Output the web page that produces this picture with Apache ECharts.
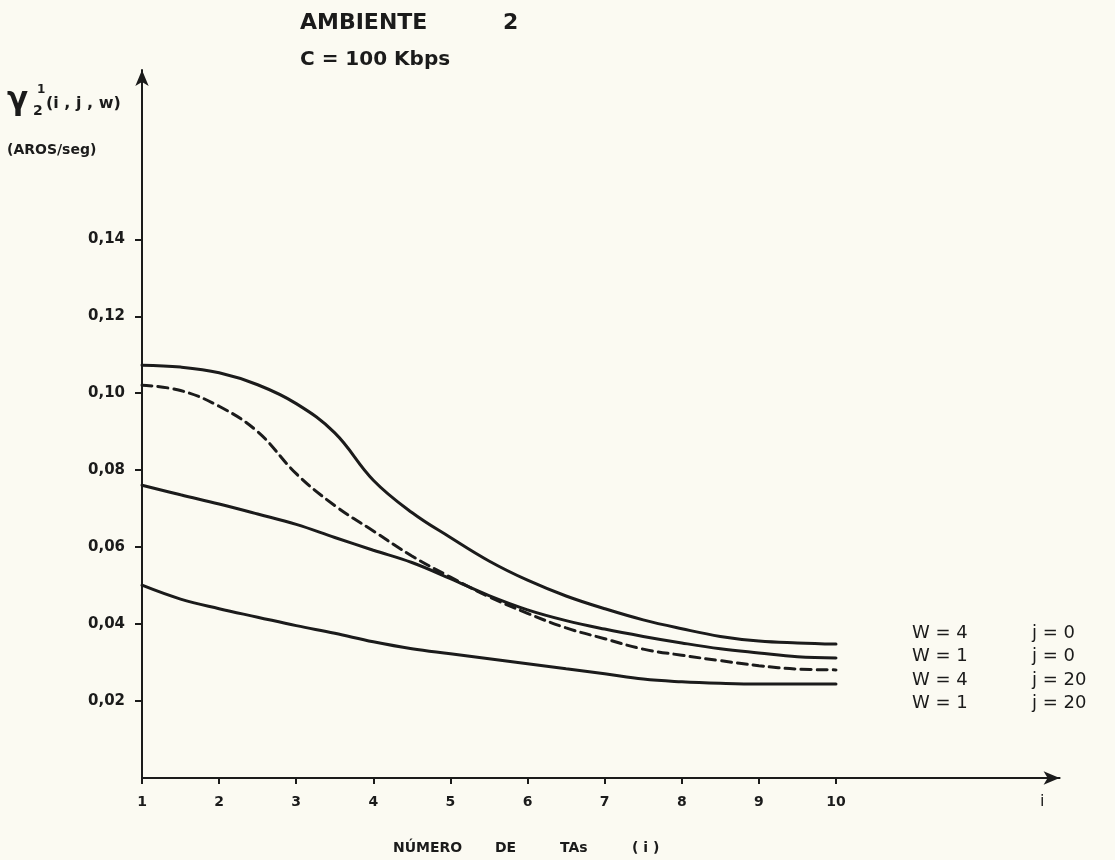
<!DOCTYPE html>
<html>
<head>
<meta charset="utf-8">
<title>AMBIENTE 2</title>
<script src="https://cdn.jsdelivr.net/npm/echarts@6/dist/echarts.min.js"></script>
<style>
  html, body { margin: 0; padding: 0; background: #fbfaf2; }
  #chart { width: 1115px; height: 860px; }
</style>
</head>
<body>
<div id="chart"></div>
<script>
// ---- data ----
const xValues = [1, 1.5, 2, 2.5, 3, 3.5, 4, 4.5, 5, 5.5, 6, 6.5, 7, 7.5, 8, 8.5, 9, 9.5, 10];
const seriesW4j0  = [0.1073, 0.1068, 0.1053, 0.1022, 0.0973, 0.0897, 0.0774, 0.0690, 0.0625, 0.0564, 0.0514, 0.0473, 0.0440, 0.0411, 0.0388, 0.0368, 0.0356, 0.0351, 0.0348];
const seriesW1j0  = [0.0761, 0.0736, 0.0712, 0.0686, 0.0659, 0.0625, 0.0592, 0.0560, 0.0518, 0.0474, 0.0437, 0.0409, 0.0387, 0.0368, 0.0351, 0.0336, 0.0325, 0.0315, 0.0312];
const seriesW4j20 = [0.1021, 0.1007, 0.0966, 0.0900, 0.0791, 0.0708, 0.0642, 0.0577, 0.0522, 0.0471, 0.0428, 0.0390, 0.0362, 0.0335, 0.0319, 0.0305, 0.0292, 0.0283, 0.0281];
const seriesW1j20 = [0.0501, 0.0465, 0.0440, 0.0418, 0.0396, 0.0376, 0.0354, 0.0336, 0.0323, 0.0310, 0.0297, 0.0284, 0.0271, 0.0257, 0.0250, 0.0246, 0.0244, 0.0244, 0.0244];

const seriesNames = ['W = 4, j = 0', 'W = 1, j = 0', 'W = 4, j = 20', 'W = 1, j = 20'];
const legendW = ['W = 4', 'W = 1', 'W = 4', 'W = 1'];
const legendJ = ['j = 0', 'j = 0', 'j = 20', 'j = 20'];

const xTickValues = [1, 2, 3, 4, 5, 6, 7, 8, 9, 10];
const xTickLabels = ['1', '2', '3', '4', '5', '6', '7', '8', '9', '10'];
const yTickValues = [0.02, 0.04, 0.06, 0.08, 0.10, 0.12, 0.14];
const yTickLabels = ['0,02', '0,04', '0,06', '0,08', '0,10', '0,12', '0,14'];

// ---- chart ----
const INK = '#1b1b1b';
const FONT = 'DejaVu Sans';
const allSeries = [seriesW4j0, seriesW1j0, seriesW4j20, seriesW1j20];
const dashed = [false, false, true, false];

function nearestIndex(arr, v) {
  let best = 0;
  for (let i = 1; i < arr.length; i++) {
    if (Math.abs(arr[i] - v) < Math.abs(arr[best] - v)) best = i;
  }
  return best;
}

const chart = echarts.init(document.getElementById('chart'), null, { renderer: 'canvas' });

function txt(left, top, text, size, bold) {
  return {
    type: 'text', left: left, top: top,
    style: { text: text, fontSize: size, fontWeight: bold ? 'bold' : 'normal', fontFamily: FONT, fill: INK }
  };
}

const option = {
  backgroundColor: '#fbfaf2',
  animation: false,
  grid: { left: 142, top: 70, width: 917.6, height: 708 },
  xAxis: {
    type: 'value',
    min: 1,
    max: 12.9,
    splitLine: { show: false },
    axisLine: {
      show: true,
      symbol: ['none', 'arrow'],
      symbolSize: [10, 16],
      lineStyle: { color: INK, width: 2 }
    },
    axisTick: {
      show: true,
      customValues: xTickValues,
      length: 6,
      lineStyle: { color: INK, width: 2 }
    },
    axisLabel: {
      customValues: xTickValues,
      formatter: v => xTickLabels[nearestIndex(xTickValues, v)],
      margin: 17,
      fontSize: 14,
      fontWeight: 'bold',
      fontFamily: FONT,
      color: INK
    }
  },
  yAxis: {
    type: 'value',
    min: 0,
    max: 0.184,
    splitLine: { show: false },
    axisLine: {
      show: true,
      symbol: ['none', 'arrow'],
      symbolSize: [10, 16],
      lineStyle: { color: INK, width: 2 }
    },
    axisTick: {
      show: true,
      customValues: yTickValues,
      length: 7,
      lineStyle: { color: INK, width: 2 }
    },
    axisLabel: {
      customValues: yTickValues,
      formatter: v => yTickLabels[nearestIndex(yTickValues, v)],
      margin: 17,
      fontSize: 15,
      fontWeight: 'bold',
      fontFamily: FONT,
      color: INK
    }
  },
  legend: {
    orient: 'vertical',
    left: 902,
    top: 618,
    icon: 'none',
    itemWidth: 0,
    itemHeight: 10,
    itemGap: 3,
    selectedMode: false,
    data: seriesNames,
    formatter: name => {
      const i = seriesNames.indexOf(name);
      return '{w|' + legendW[i] + '}{j|' + legendJ[i] + '}';
    },
    textStyle: {
      color: INK,
      fontFamily: FONT,
      fontSize: 18,
      lineHeight: 20.5,
      rich: {
        w: { width: 120, fontSize: 18, fontFamily: FONT, color: INK, lineHeight: 20.5 },
        j: { fontSize: 18, fontFamily: FONT, color: INK, lineHeight: 20.5 }
      }
    }
  },
  series: allSeries.map((vals, k) => ({
    name: seriesNames[k],
    type: 'line',
    smooth: 0.4,
    showSymbol: false,
    symbol: 'none',
    data: xValues.map((x, i) => [x, vals[i]]),
    lineStyle: {
      color: INK,
      width: 3,
      type: dashed[k] ? [10, 6] : 'solid',
      cap: 'round'
    },
    itemStyle: { color: INK },
    emphasis: { disabled: true }
  })),
  graphic: [
    txt(300, 12, 'AMBIENTE', 22, true),
    txt(503, 12, '2', 22, true),
    txt(300, 50, 'C = 100 Kbps', 20, true),
    txt(7, 85, 'γ', 31, true),
    txt(37, 84, '1', 12, true),
    txt(33, 104, '2', 14, true),
    txt(46, 96, '(i , j , w)', 16, true),
    txt(7, 143, '(AROS/seg)', 14, true),
    txt(393, 841, 'NÚMERO', 14, true),
    txt(495, 841, 'DE', 14, true),
    txt(560, 841, 'TAs', 14, true),
    txt(632, 841, '( i )', 14, true),
    txt(1040, 794, 'i', 16, false)
  ]
};

chart.setOption(option);
</script>
</body>
</html>
